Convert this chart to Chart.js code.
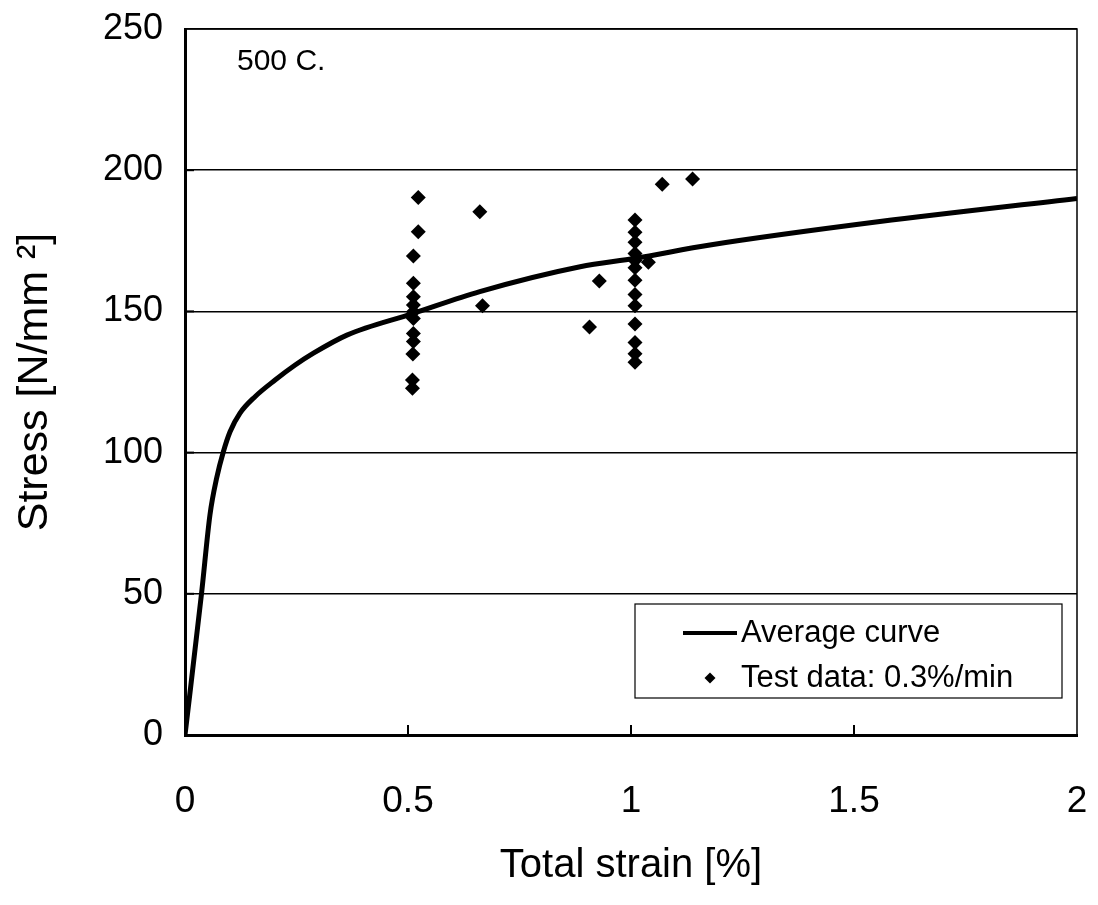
<!DOCTYPE html>
<html>
<head>
<meta charset="utf-8">
<script src="https://cdn.jsdelivr.net/npm/chart.js@4"></script>
<style>
  html, body { margin: 0; padding: 0; background: #fff; }
  #wrap { width: 1098px; height: 905px; position: relative; }
</style>
</head>
<body>
<div id="wrap"><canvas id="c" width="1098" height="905"></canvas></div>
<script>
// ---- data ----
const curveStrain = [0, 0.037, 0.056, 0.071, 0.086, 0.101, 0.123, 0.157, 0.202, 0.247, 0.288, 0.363, 0.512, 0.661, 0.886, 1.009, 1.177, 1.558, 2.0];
const curveStress = [0, 50, 78, 91, 100.3, 107.4, 113.9, 119.8, 125.7, 131, 135.2, 141.6, 149.3, 157, 165.8, 168.8, 173.5, 181.8, 190];

const testStrain = [0.523, 0.523, 0.512, 0.512, 0.512, 0.512, 0.512, 0.512, 0.512, 0.512, 0.511, 0.510, 0.510,
                    0.661, 0.667, 0.907, 0.929, 1.039, 1.07, 1.138,
                    1.009, 1.009, 1.009, 1.009, 1.009, 1.009, 1.009, 1.009, 1.009, 1.009, 1.009, 1.009, 1.009];
const testStress = [190.3, 178.2, 169.6, 160, 155.2, 152.3, 149.9, 147.5, 142.2, 139.3, 134.9, 125.7, 122.8,
                    185.3, 152, 144.5, 160.8, 167.4, 195, 196.9,
                    182.4, 178, 174.5, 170.5, 168, 165.5, 161, 156, 152, 145.5, 139, 135, 132];

const xTicks = [0, 0.5, 1, 1.5, 2];
const yTicks = [0, 50, 100, 150, 200, 250];
const seriesNames = ['Average curve', 'Test data: 0.3%/min'];
const annotationText = '500 C.';

const FONT = "'Liberation Sans', Arial, Helvetica, sans-serif";

function zeroPad(s) { s.paddingLeft = 0; s.paddingRight = 0; s.paddingTop = 0; s.paddingBottom = 0; }

const framePlugin = {
  id: 'frame',
  afterDraw(chart) {
    const {ctx, chartArea: a, scales: {x, y}} = chart;
    ctx.save();
    ctx.strokeStyle = '#000';
    // top & right border
    ctx.lineWidth = 1.5;
    ctx.beginPath();
    ctx.moveTo(a.left, a.top); ctx.lineTo(a.right, a.top); ctx.lineTo(a.right, a.bottom);
    ctx.stroke();
    // inward tick marks
    ctx.lineWidth = 2;
    xTicks.slice(1, -1).forEach(v => {
      const px = x.getPixelForValue(v);
      ctx.beginPath(); ctx.moveTo(px, a.bottom); ctx.lineTo(px, a.bottom - 10); ctx.stroke();
    });
    yTicks.slice(1, -1).forEach(v => {
      const py = y.getPixelForValue(v);
      ctx.beginPath(); ctx.moveTo(a.left, py); ctx.lineTo(a.left + 9, py); ctx.stroke();
    });
    // annotation
    ctx.fillStyle = '#000';
    ctx.font = '30px ' + FONT;
    ctx.textBaseline = 'middle';
    ctx.textAlign = 'left';
    ctx.fillText(annotationText, a.left + 52, a.top + 33);
    // legend box
    const lx = a.left + 450, ly = a.top + 575, lw = 427, lh = 94;
    ctx.fillStyle = '#fff';
    ctx.fillRect(lx, ly, lw, lh);
    ctx.lineWidth = 1.2;
    ctx.strokeRect(lx, ly, lw, lh);
    const ds = chart.data.datasets;
    ctx.font = '31px ' + FONT;
    ctx.fillStyle = '#000';
    const r1 = ly + 29, r2 = ly + 74;
    ctx.strokeStyle = ds[0].borderColor;
    ctx.lineWidth = 4;
    ctx.beginPath(); ctx.moveTo(lx + 48, r1); ctx.lineTo(lx + 102, r1); ctx.stroke();
    ctx.fillText(ds[0].label, lx + 106, r1);
    ctx.fillStyle = ds[1].backgroundColor;
    Chart.helpers.drawPoint(ctx, {pointStyle: 'rectRot', radius: 5.5, borderWidth: 0}, lx + 75, r2);
    ctx.fillStyle = '#000';
    ctx.fillText(ds[1].label, lx + 106, r2);
    ctx.restore();
  }
};

new Chart(document.getElementById('c'), {
  type: 'scatter',
  data: {
    datasets: [
      {
        label: seriesNames[0],
        data: curveStrain.map((v, i) => ({x: v, y: curveStress[i]})),
        showLine: true,
        borderColor: '#000',
        borderWidth: 5,
        pointRadius: 0,
        cubicInterpolationMode: 'monotone',
        order: 2
      },
      {
        label: seriesNames[1],
        data: testStrain.map((v, i) => ({x: v, y: testStress[i]})),
        showLine: false,
        backgroundColor: '#000',
        borderColor: '#000',
        borderWidth: 0,
        pointStyle: 'rectRot',
        pointRadius: 7.5,
        order: 1
      }
    ]
  },
  options: {
    responsive: false,
    animation: false,
    devicePixelRatio: 1,
    layout: { padding: { top: 29, right: 21, left: 0, bottom: 0 } },
    plugins: { legend: { display: false }, tooltip: { enabled: false } },
    scales: {
      x: {
        type: 'linear', min: 0, max: 2,
        afterBuildTicks: s => { s.ticks = xTicks.map(v => ({value: v})); },
        afterFit: s => { s.height = 170; zeroPad(s); },
        grid: { display: false, drawTicks: false },
        border: { display: true, color: '#000', width: 3 },
        ticks: { color: '#000', font: { family: FONT, size: 37 }, padding: 45, maxRotation: 0,
                 callback: v => String(v) },
        title: { display: true, text: 'Total strain [%]', color: '#000',
                 font: { family: FONT, size: 40 }, padding: { top: 15, bottom: 15 } }
      },
      y: {
        type: 'linear', min: 0, max: 250,
        afterBuildTicks: s => { s.ticks = yTicks.map(v => ({value: v})); },
        afterFit: s => { s.width = 185; zeroPad(s); },
        grid: { color: '#000', lineWidth: 1.5, drawTicks: false },
        border: { display: true, color: '#000', width: 3 },
        ticks: { color: '#000', font: { family: FONT, size: 36 }, padding: 22 },
        title: { display: true, text: 'Stress [N/mm ²]', color: '#000',
                 font: { family: FONT, size: 43 }, padding: { top: 9, bottom: 9 } }
      }
    }
  },
  plugins: [framePlugin]
});
</script>
</body>
</html>
